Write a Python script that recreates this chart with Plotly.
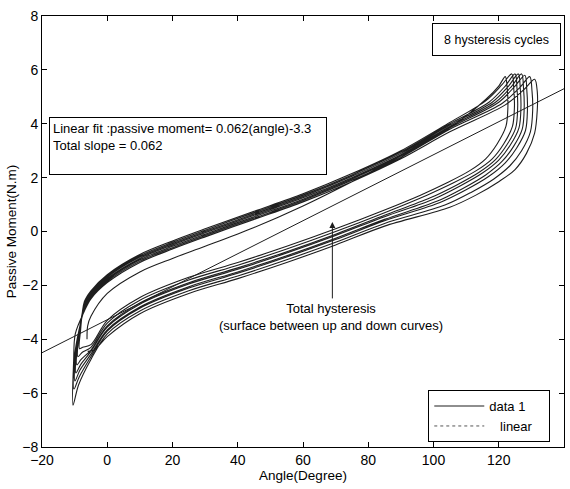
import plotly.graph_objects as go

# ---- data ----
c1_angle = [-6.2, -6.0, -5.0, 0, 10, 20, 30, 45, 60, 75, 90, 105, 116, 120, 122,
            122.6, 122.8, 122.2, 119.5, 116, 111, 104, 96, 85, 70, 55, 40, 25, 10, 0, -5, -7.5, -8.5]
c1_moment = [-4.0, -3.5, -3.15, -2.3, -1.5, -1.0, -0.55, 0.15, 0.95, 1.85, 2.8, 3.85, 4.9, 5.4, 5.75,
             5.3, 4.6, 3.9, 3.25, 2.7, 2.25, 1.8, 1.35, 0.8, 0.1, -0.55, -1.15, -1.7, -2.45, -3.3, -4.2, -4.3, -4.35]

c2_angle = [-8.2, -7, -5, 0, 10, 20, 30, 45, 60, 75, 90, 105, 116, 121, 124,
            124.6, 124.8, 124.2, 121.5, 118, 113, 106, 98, 85, 70, 55, 40, 25, 10, 0, -5, -7.8, -9.0]
c2_moment = [-3.7, -2.6, -2.2, -1.6, -0.85, -0.35, 0.1, 0.75, 1.4, 2.15, 3.0, 4.05, 4.85, 5.45, 5.85,
             5.3, 4.6, 3.9, 3.25, 2.7, 2.25, 1.8, 1.35, 0.7, 0.0, -0.65, -1.25, -1.8, -2.55, -3.4, -4.3, -4.5, -4.65]

c3_angle = [-8.7, -7, -5, 0, 10, 20, 30, 45, 60, 75, 90, 105, 117, 122, 125,
            125.6, 125.8, 125.2, 122.5, 119, 114, 107, 99, 85, 70, 55, 40, 25, 10, 0, -5, -8, -9.3]
c3_moment = [-3.9, -2.7, -2.25, -1.65, -0.9, -0.4, 0.05, 0.7, 1.35, 2.1, 2.95, 4.0, 4.8, 5.4, 5.85,
             5.3, 4.6, 3.85, 3.22, 2.67, 2.2, 1.72, 1.25, 0.6, -0.1, -0.75, -1.35, -1.9, -2.65, -3.5, -4.4, -4.75, -4.95]

c4_angle = [-9.0, -7, -5, 0, 10, 20, 30, 45, 60, 75, 90, 105, 118, 123, 126,
            126.6, 126.8, 126.2, 123.5, 120, 115, 108, 100, 85, 70, 55, 40, 25, 10, 0, -5, -8.2, -9.6]
c4_moment = [-4.1, -2.75, -2.3, -1.7, -0.95, -0.45, 0.0, 0.65, 1.3, 2.05, 2.9, 3.95, 4.8, 5.4, 5.85,
             5.3, 4.6, 3.85, 3.2, 2.65, 2.17, 1.68, 1.2, 0.55, -0.15, -0.8, -1.4, -1.95, -2.7, -3.55, -4.45, -4.95, -5.25]

c5_angle = [-9.3, -7, -5, 0, 10, 20, 30, 45, 60, 75, 90, 105, 119, 124, 127,
            127.6, 127.8, 127.2, 124.5, 121, 116, 109, 101, 85, 70, 55, 40, 25, 10, 0, -5, -8.4, -9.9]
c5_moment = [-4.3, -2.8, -2.35, -1.75, -1.0, -0.5, -0.05, 0.6, 1.25, 2.0, 2.85, 3.9, 4.8, 5.4, 5.85,
             5.3, 4.6, 3.8, 3.15, 2.6, 2.1, 1.6, 1.12, 0.45, -0.25, -0.9, -1.5, -2.05, -2.8, -3.65, -4.55, -5.15, -5.55]

c6_angle = [-9.6, -7, -5, 0, 10, 20, 30, 45, 60, 75, 90, 105, 120, 125, 128,
            128.6, 128.8, 128.2, 125.5, 122, 117, 110, 102, 85, 70, 55, 40, 25, 10, 0, -5, -8.6, -10.2]
c6_moment = [-4.4, -2.85, -2.4, -1.8, -1.05, -0.55, -0.1, 0.55, 1.2, 1.95, 2.8, 3.85, 4.8, 5.4, 5.8,
             5.25, 4.55, 3.75, 3.1, 2.55, 2.05, 1.55, 1.08, 0.4, -0.3, -0.95, -1.55, -2.1, -2.85, -3.7, -4.65, -5.4, -5.85]

c7_angle = [-9.9, -7, -5, 0, 10, 20, 30, 45, 60, 75, 90, 105, 121, 126.5, 129.5,
            130.2, 130.4, 129.7, 127, 123.5, 118.5, 111.5, 103.5, 85, 70, 55, 40, 25, 10, 0, -5, -8.8, -10.5]
c7_moment = [-4.5, -2.9, -2.45, -1.85, -1.1, -0.6, -0.15, 0.5, 1.15, 1.9, 2.75, 3.8, 4.75, 5.35, 5.75,
             5.2, 4.5, 3.7, 3.0, 2.45, 1.95, 1.45, 0.98, 0.3, -0.4, -1.05, -1.65, -2.2, -2.95, -3.8, -4.75, -5.7, -6.45]

c8_angle = [-10.3, -9.8, -7, -5, 0, 10, 20, 30, 45, 60, 75, 90, 105, 122, 128, 131.0,
            131.8, 131.8, 131.0, 128.5, 125, 120, 113, 105, 85, 70, 55, 40, 25, 10, 0, -4, -6.0]
c8_moment = [-4.8, -3.8, -2.95, -2.5, -1.9, -1.15, -0.65, -0.2, 0.45, 1.1, 1.85, 2.7, 3.7, 4.7, 5.3, 5.65,
             5.2, 4.5, 3.65, 2.9, 2.3, 1.85, 1.35, 0.9, 0.2, -0.5, -1.15, -1.75, -2.3, -3.05, -3.9, -4.4, -4.45]

linear_angle = [-20, 140]
linear_moment = [-4.5, 5.3]

x_ticks = [-20, 0, 20, 40, 60, 80, 100, 120, 140]
y_ticks = [-8, -6, -4, -2, 0, 2, 4, 6, 8]

# ---- build ----
angles = c1_angle + c2_angle + c3_angle + c4_angle + c5_angle + c6_angle + c7_angle + c8_angle
moments = c1_moment + c2_moment + c3_moment + c4_moment + c5_moment + c6_moment + c7_moment + c8_moment

FONT = "Liberation Sans, Arial, sans-serif"
INK = "#1e1e1e"
NB = "\u00a0"

fig = go.Figure()
fig.add_trace(go.Scatter(
    x=angles, y=moments, mode="lines", name="data 1" + NB * 5,
    line=dict(color=INK, width=1.1, shape="spline", smoothing=0.9),
))
fig.add_trace(go.Scatter(
    x=linear_angle, y=linear_moment, mode="lines", name="linear",
    line=dict(color=INK, width=1), showlegend=False,
))
fig.add_trace(go.Scatter(
    x=[None], y=[None], mode="lines", name=NB * 3 + "linear",
    line=dict(color="#555555", width=1, dash="dot"),
))

axis_common = dict(
    showline=True, linecolor="black", linewidth=1, mirror="ticks",
    ticks="inside", ticklen=5, tickcolor="black", tickwidth=1,
    showgrid=False, zeroline=False,
    tickfont=dict(family=FONT, size=14, color="black"),
)

fig.update_layout(
    width=570, height=489,
    margin=dict(l=42, r=6, t=16, b=42),
    paper_bgcolor="white", plot_bgcolor="white",
    font=dict(family=FONT, color="black"),
    xaxis=dict(range=[-20, 140], tickvals=x_ticks,
               title=dict(text="Angle(Degree)", font=dict(size=13.5), standoff=2),
               **axis_common),
    yaxis=dict(range=[-8, 8], tickvals=y_ticks,
               title=dict(text="Passive Moment(N.m)", font=dict(size=13.5), standoff=2),
               **axis_common),
    legend=dict(
        x=0.74, y=0.132, xanchor="left", yanchor="top",
        bgcolor="white", bordercolor="black", borderwidth=1,
        font=dict(family=FONT, size=13), itemwidth=50,
    ),
    showlegend=True,
)

fig.add_annotation(
    xref="paper", yref="paper", x=0.0134, y=0.766, xanchor="left", yanchor="top",
    text="Linear fit :passive moment= 0.062(angle)-3.3<br>Total slope = 0.062",
    showarrow=False, align="left", valign="top", width=270, height=50,
    bordercolor="black", borderwidth=1, borderpad=3, bgcolor="white",
    font=dict(family=FONT, size=13),
)
fig.add_annotation(
    xref="paper", yref="paper", x=0.7476, y=0.984, xanchor="left", yanchor="top",
    text="8 hysteresis cycles", showarrow=False, align="center", valign="middle",
    width=121, height=25, bordercolor="black", borderwidth=1, borderpad=3,
    bgcolor="white", font=dict(family=FONT, size=12.5),
)
fig.add_annotation(
    x=69, y=0.35, ax=69, ay=-2.54, xref="x", yref="y", axref="x", ayref="y",
    text="", showarrow=True, arrowhead=2, arrowsize=1.2, arrowwidth=1, arrowcolor=INK,
)
fig.add_annotation(
    x=68.5, y=-3.17, xref="x", yref="y",
    text="Total hysteresis<br>(surface between up and down curves)",
    showarrow=False, align="center", font=dict(family=FONT, size=13),
)

fig.write_html("out.html")
